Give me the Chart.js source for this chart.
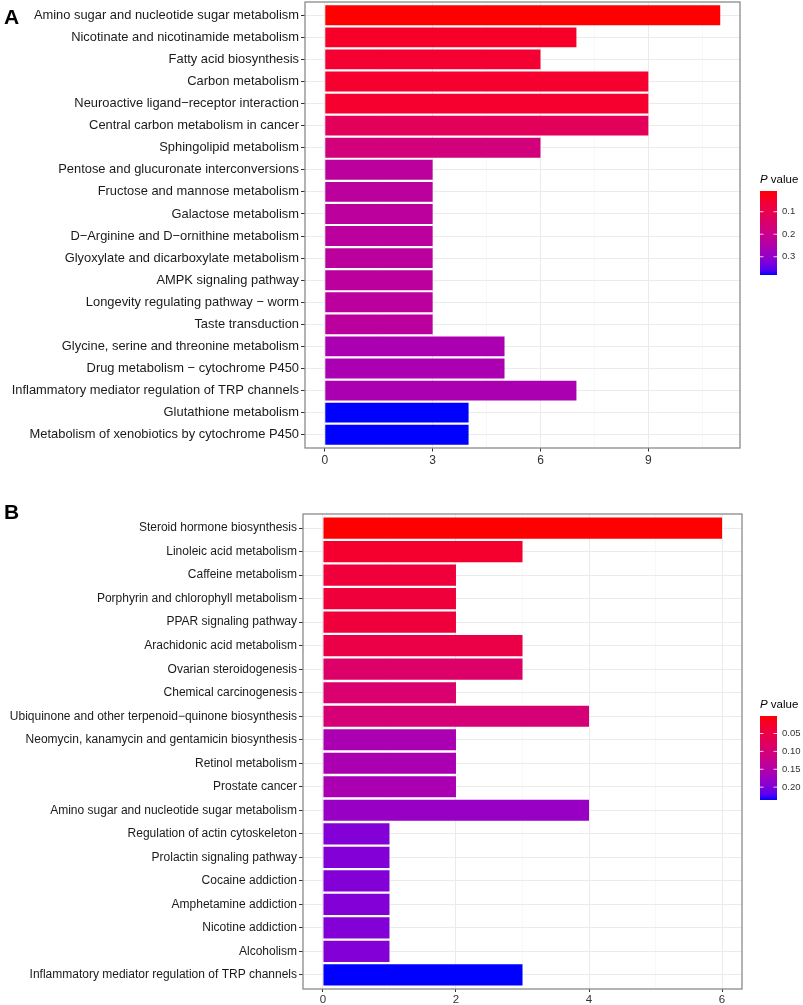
<!DOCTYPE html>
<html>
<head>
<meta charset="utf-8">
<script src="https://cdn.jsdelivr.net/npm/chart.js@4"></script>
<style>
  body { margin: 0; background: #fff; }
  #wrap { position: relative; width: 803px; height: 1005px; }
  .box { position: absolute; left: 0; width: 803px; }
  .tag { position: absolute; left: 4px; font: bold 21px "Liberation Sans", Arial, sans-serif; color: #000; }
</style>
</head>
<body>
<div id="wrap">
  <div class="box" style="top:0;height:472px"><canvas id="chartA"></canvas></div>
  <div class="box" style="top:490px;height:515px"><canvas id="chartB"></canvas></div>
  <div class="tag" style="top:5px">A</div>
  <div class="tag" style="top:500px">B</div>
</div>
<script>
// panel A
const categoriesA = [
  "Amino sugar and nucleotide sugar metabolism",
  "Nicotinate and nicotinamide metabolism",
  "Fatty acid biosynthesis",
  "Carbon metabolism",
  "Neuroactive ligand\u2212receptor interaction",
  "Central carbon metabolism in cancer",
  "Sphingolipid metabolism",
  "Pentose and glucuronate interconversions",
  "Fructose and mannose metabolism",
  "Galactose metabolism",
  "D\u2212Arginine and D\u2212ornithine metabolism",
  "Glyoxylate and dicarboxylate metabolism",
  "AMPK signaling pathway",
  "Longevity regulating pathway \u2212 worm",
  "Taste transduction",
  "Glycine, serine and threonine metabolism",
  "Drug metabolism \u2212 cytochrome P450",
  "Inflammatory mediator regulation of TRP channels",
  "Glutathione metabolism",
  "Metabolism of xenobiotics by cytochrome P450"
];
const countsA = [11, 7, 6, 9, 9, 9, 6, 3, 3, 3, 3, 3, 3, 3, 3, 5, 5, 7, 4, 4];
const pvaluesA = [0.008, 0.045, 0.056, 0.052, 0.052, 0.12, 0.172, 0.228, 0.228, 0.228,
                  0.228, 0.228, 0.228, 0.228, 0.228, 0.262, 0.262, 0.262, 0.381, 0.381];
const xTicksA = [0, 3, 6, 9];
const legendTicksA = [0.1, 0.2, 0.3];

// panel B
const categoriesB = [
  "Steroid hormone biosynthesis",
  "Linoleic acid metabolism",
  "Caffeine metabolism",
  "Porphyrin and chlorophyll metabolism",
  "PPAR signaling pathway",
  "Arachidonic acid metabolism",
  "Ovarian steroidogenesis",
  "Chemical carcinogenesis",
  "Ubiquinone and other terpenoid\u2212quinone biosynthesis",
  "Neomycin, kanamycin and gentamicin biosynthesis",
  "Retinol metabolism",
  "Prostate cancer",
  "Amino sugar and nucleotide sugar metabolism",
  "Regulation of actin cytoskeleton",
  "Prolactin signaling pathway",
  "Cocaine addiction",
  "Amphetamine addiction",
  "Nicotine addiction",
  "Alcoholism",
  "Inflammatory mediator regulation of TRP channels"
];
const countsB = [6, 3, 2, 2, 2, 3, 3, 2, 4, 2, 2, 2, 4, 1, 1, 1, 1, 1, 1, 3];
const pvaluesB = [0.001, 0.028, 0.04, 0.04, 0.04, 0.052, 0.085, 0.09, 0.099, 0.16,
                  0.16, 0.16, 0.179, 0.196, 0.196, 0.196, 0.196, 0.196, 0.196, 0.236];
const xTicksB = [0, 2, 4, 6];
const legendTicksB = [0.05, 0.10, 0.15, 0.20];

Chart.defaults.font.family = "'Liberation Sans', Arial, sans-serif";

// red -> blue through Lab, like ggplot's scale_fill_gradient
function toLin(c) { c /= 255; return c <= 0.04045 ? c / 12.92 : Math.pow((c + 0.055) / 1.055, 2.4); }
function fromLin(c) {
  c = c <= 0.0031308 ? 12.92 * c : 1.055 * Math.pow(c, 1 / 2.4) - 0.055;
  return Math.round(Math.max(0, Math.min(1, c)) * 255);
}
function rgbToLab(r, g, b) {
  r = toLin(r); g = toLin(g); b = toLin(b);
  const X = (0.4124 * r + 0.3576 * g + 0.1805 * b) / 0.95047;
  const Y = 0.2126 * r + 0.7152 * g + 0.0722 * b;
  const Z = (0.0193 * r + 0.1192 * g + 0.9505 * b) / 1.08883;
  const f = t => t > 0.008856 ? Math.cbrt(t) : 7.787 * t + 16 / 116;
  const fx = f(X), fy = f(Y), fz = f(Z);
  return [116 * fy - 16, 500 * (fx - fy), 200 * (fy - fz)];
}
function labToRgb(L, a, b) {
  const fy = (L + 16) / 116, fx = fy + a / 500, fz = fy - b / 200;
  const inv = t => t * t * t > 0.008856 ? t * t * t : (t - 16 / 116) / 7.787;
  const X = inv(fx) * 0.95047, Y = inv(fy), Z = inv(fz) * 1.08883;
  const r = 3.2406 * X - 1.5372 * Y - 0.4986 * Z;
  const g = -0.9689 * X + 1.8758 * Y + 0.0415 * Z;
  const bb = 0.0557 * X - 0.2040 * Y + 1.0570 * Z;
  return "rgb(" + fromLin(r) + "," + fromLin(g) + "," + fromLin(bb) + ")";
}
const labLow = rgbToLab(255, 0, 0);
const labHigh = rgbToLab(0, 0, 255);
function gradColor(t) {
  return labToRgb(
    labLow[0] + (labHigh[0] - labLow[0]) * t,
    labLow[1] + (labHigh[1] - labLow[1]) * t,
    labLow[2] + (labHigh[2] - labLow[2]) * t
  );
}

const panelPlugin = {
  id: "panel",
  afterDraw(chart, args, opts) {
    const ctx = chart.ctx;
    const a = chart.chartArea;
    ctx.save();
    ctx.strokeStyle = "#8a8a8a";
    ctx.lineWidth = 1.3;
    ctx.strokeRect(a.left, a.top, a.right - a.left, a.bottom - a.top);

    // colour bar legend
    const x = 760, w = 17, h = 84, top = opts.top;
    const pmin = Math.min(...opts.pvals), pmax = Math.max(...opts.pvals);
    const grad = ctx.createLinearGradient(0, top, 0, top + h);
    for (let i = 0; i <= 20; i++) grad.addColorStop(i / 20, gradColor(i / 20));
    ctx.fillStyle = grad;
    ctx.fillRect(x, top, w, h);

    ctx.fillStyle = "#000";
    ctx.textBaseline = "middle";
    ctx.textAlign = "left";
    ctx.font = "italic 11.5px 'Liberation Sans', Arial, sans-serif";
    ctx.fillText("P", x, top - 11);
    const pw = ctx.measureText("P").width;
    ctx.font = "11.5px 'Liberation Sans', Arial, sans-serif";
    ctx.fillText(" value", x + pw, top - 11);

    ctx.font = "9.5px 'Liberation Sans', Arial, sans-serif";
    ctx.fillStyle = "#333";
    ctx.strokeStyle = "#fff";
    ctx.lineWidth = 0.8;
    opts.ticks.forEach(p => {
      const y = top + (p - pmin) / (pmax - pmin) * h;
      ctx.beginPath();
      ctx.moveTo(x, y); ctx.lineTo(x + 3.5, y);
      ctx.moveTo(x + w - 3.5, y); ctx.lineTo(x + w, y);
      ctx.stroke();
      ctx.fillText(p.toFixed(opts.decimals), x + w + 5, y);
    });
    ctx.restore();
  }
};

function noPad(s) {
  s.paddingTop = 0; s.paddingBottom = 0; s.paddingLeft = 0; s.paddingRight = 0;
}

function makeChart(id, categories, counts, pvals, xTicks, legendTicks, cfg) {
  const pmin = Math.min(...pvals), pmax = Math.max(...pvals);
  const maxCount = Math.max(...counts);
  const step = xTicks[1] - xTicks[0];
  const allTicks = [];
  xTicks.forEach(v => {
    allTicks.push(v);
    if (v + step / 2 <= maxCount * 1.05) allTicks.push(v + step / 2);
  });
  const isMajor = v => xTicks.includes(v);

  new Chart(document.getElementById(id), {
    type: "bar",
    data: {
      datasets: [{
        data: counts.map((v, i) => ({ x: v, y: i })),
        backgroundColor: pvals.map(p => gradColor((p - pmin) / (pmax - pmin))),
        borderWidth: 0,
        barPercentage: 0.9,
        categoryPercentage: 1.0
      }]
    },
    options: {
      indexAxis: "y",
      responsive: true,
      maintainAspectRatio: false,
      animation: false,
      layout: { padding: { top: cfg.padTop, right: 803 - cfg.right, left: 0, bottom: 0 } },
      plugins: {
        legend: { display: false },
        tooltip: { enabled: false },
        panel: { top: cfg.legendTop, pvals: pvals, ticks: legendTicks, decimals: cfg.decimals }
      },
      scales: {
        x: {
          type: "linear",
          min: -maxCount * 0.05,
          max: maxCount * 1.05,
          afterBuildTicks: s => { s.ticks = allTicks.map(v => ({ value: v })); },
          afterFit: s => { s.height = cfg.xHeight; noPad(s); },
          border: { display: false },
          grid: {
            offset: false,
            color: c => c.tick && isMajor(c.tick.value) ? "#ebebeb" : "#f3f3f3",
            lineWidth: c => c.tick && isMajor(c.tick.value) ? 1 : 0.6,
            tickColor: c => c.tick && isMajor(c.tick.value) ? "#333" : "rgba(0,0,0,0)",
            tickLength: cfg.xTickLen
          },
          ticks: {
            autoSkip: false,
            maxRotation: 0,
            padding: cfg.xPad,
            color: "#333",
            font: { size: cfg.xFont },
            callback: v => isMajor(v) ? String(v) : ""
          }
        },
        y: {
          type: "linear",
          reverse: true,
          offset: false,
          min: -0.6,
          max: categories.length - 1 + 0.6,
          afterBuildTicks: s => { s.ticks = categories.map((c, i) => ({ value: i })); },
          afterFit: s => { s.width = cfg.left; noPad(s); },
          border: { display: false },
          grid: { offset: false, color: "#ebebeb", lineWidth: 1, tickColor: "#333", tickLength: 4 },
          ticks: {
            autoSkip: false,
            padding: cfg.yPad,
            color: "#1a1a1a",
            font: { size: cfg.yFont },
            callback: v => categories[v]
          }
        }
      }
    },
    plugins: [panelPlugin]
  });
}

makeChart("chartA", categoriesA, countsA, pvaluesA, xTicksA, legendTicksA,
  { left: 305, right: 740, padTop: 2, xHeight: 24, xTickLen: 3.5, xPad: 2, yPad: 2,
    xFont: 12, yFont: 12.9, legendTop: 191, decimals: 1 });
makeChart("chartB", categoriesB, countsB, pvaluesB, xTicksB, legendTicksB,
  { left: 303, right: 742, padTop: 24, xHeight: 16, xTickLen: 3, xPad: 1, yPad: 2,
    xFont: 11.5, yFont: 12, legendTop: 226, decimals: 2 });
</script>
</body>
</html>
